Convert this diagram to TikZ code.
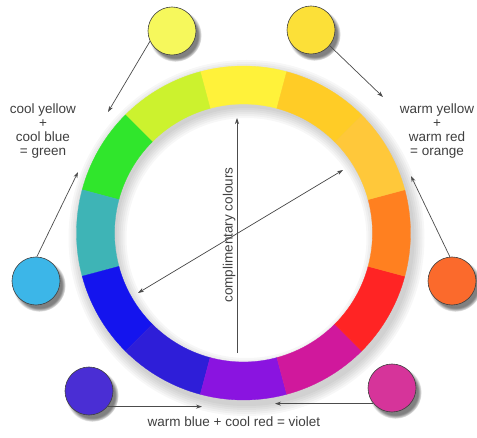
\documentclass[tikz,border=0pt]{standalone}
\usepackage{fontspec}
\setmainfont{Liberation Sans}
\usepackage{tikz}
\usetikzlibrary{arrows.meta, positioning, calc, shadows}
% wheel segments
\definecolor{segyellow}{HTML}{FFF23A}
\definecolor{seglime}{HTML}{CCF22E}
\definecolor{seggreen}{HTML}{30E62C}
\definecolor{segteal}{HTML}{3EB4B6}
\definecolor{segblue}{HTML}{1414EE}
\definecolor{segindigo}{HTML}{2E1ED8}
\definecolor{segviolet}{HTML}{8A14E0}
\definecolor{segmagenta}{HTML}{D0189C}
\definecolor{segred}{HTML}{FF2424}
\definecolor{segorange}{HTML}{FF8020}
\definecolor{segamber}{HTML}{FFC83A}
\definecolor{seggold}{HTML}{FFCC26}
% paint dots
\definecolor{coolyellow}{HTML}{F6F85C}
\definecolor{warmyellow}{HTML}{FCE038}
\definecolor{coolblue}{HTML}{3CB6E8}
\definecolor{warmred}{HTML}{FB6A2C}
\definecolor{warmblue}{HTML}{4A2ED4}
\definecolor{coolred}{HTML}{D6349A}

\begin{document}
\begin{tikzpicture}[x=1pt, y=1pt,
    paint/.style={circle, draw=black!75, line width=0.6pt, minimum size=48pt,
        inner sep=0pt, circular drop shadow={shadow xshift=3pt, shadow yshift=-4pt}},
    mixline/.style={draw=black!70, line width=0.7pt, -{Stealth[length=6pt, width=4pt]}},
    mixtext/.style={text=black!75, font=\fontsize{13.5}{14}\selectfont,
        align=center, inner sep=0pt}]
    \useasboundingbox (0,0) rectangle (477,437);
    \fill[white] (0,0) rectangle (477,437);

    % Colour wheel
    \coordinate (wheel) at (243.5,204);
    \foreach \w in {38,42,...,58} {
        \draw[black, opacity=0.03, line width=\w pt] ($(wheel)+(3,-5)$) circle (149);
    }
    \foreach \a/\c in {90/segyellow, 120/seglime, 150/seggreen, 180/segteal,
                       210/segblue, 240/segindigo, 270/segviolet, 300/segmagenta,
                       330/segred, 360/segorange, 30/segamber, 60/seggold} {
        \filldraw[fill=\c, draw=\c, line width=0.3pt, shift={(wheel)}]
            ({\a-15}:167) arc ({\a-15}:{\a+15}:167) -- ({\a+15}:129)
            arc ({\a+15}:{\a-15}:129) -- cycle;
    }

    % Paint dots
    \node[paint, fill=coolyellow] (cy) at (172,406) {};
    \node[paint, fill=warmyellow] (wy) at (311,407) {};
    \node[paint, fill=coolblue] (cb) at (36,156) {};
    \node[paint, fill=warmred] (wr) at (452,156) {};
    \node[paint, fill=warmblue] (wb) at (89,46) {};
    \node[paint, fill=coolred] (cr) at (392,49) {};

    % Labels
    \node[mixtext] (green) at (43,306) {cool yellow\\+\\cool blue\\= green};
    \node[mixtext] (orange) at (437,306) {warm yellow\\+\\warm red\\= orange};
    \node[mixtext] (violet) at (234,15) {warm blue + cool red = violet};
    \node[mixtext, rotate=90, anchor=south, inner sep=1.5pt] (compl) at (237,202)
        {complimentary colours};

    % Arrow ends
    \coordinate (cytip) at (108,325);
    \coordinate (wytip) at (383,340);
    \coordinate (cbtip) at (78,265);
    \coordinate (wrtip) at (411,261);
    \coordinate (wbtip) at (202,30);
    \coordinate (crtip) at (275,30);
    \coordinate (vbase) at (237,84);
    \coordinate (vtop) at (237,319);
    \coordinate (diaga) at (138,144);
    \coordinate (diagb) at (343,267);

    % Mixing arrows
    \draw[mixline] (cy.205) -- (cytip);
    \draw[mixline] (wy.-40) -- (wytip);
    \draw[mixline] (cb.88) -- (cbtip);
    \draw[mixline] (wr.95) -- (wrtip);
    \draw[mixline] (wb.-40) -- (wb.-40 -| wbtip);
    \draw[mixline] (cr.-140) -- (cr.-140 -| crtip);

    % Complementary pairs
    \draw[mixline] (vbase) -- (vtop);
    \draw[mixline, {Stealth[length=6pt, width=4pt]}-{Stealth[length=6pt, width=4pt]}]
        (diaga) -- (diagb);
\end{tikzpicture}
\end{document}
